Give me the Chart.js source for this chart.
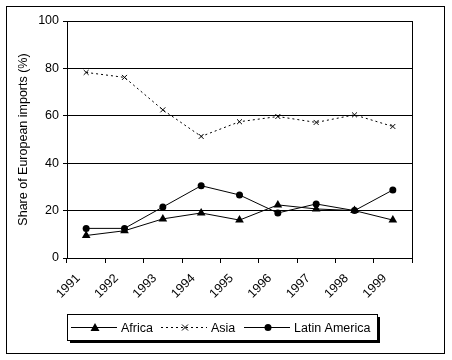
<!DOCTYPE html>
<html>
<head>
<meta charset="utf-8">
<script src="https://cdn.jsdelivr.net/npm/chart.js@4/dist/chart.umd.min.js"></script>
<style>
    body { margin: 0; background: #fff; }
    canvas { display: block; }
</style>
</head>
<body>
<canvas id="importsChart" width="452" height="360"></canvas>
<script>
const years = ["1991", "1992", "1993", "1994", "1995", "1996", "1997", "1998", "1999"];
const africa = [9.5, 11.5, 16.5, 19, 16, 22.4, 20.7, 20, 16];
const asia = [78.3, 76.2, 62.5, 51.3, 57.5, 59.7, 57.2, 60.4, 55.5];
const latinAmerica = [12.5, 12.5, 21.5, 30.5, 26.6, 19, 22.8, 20, 28.7];
const yTicks = [0, 20, 40, 60, 80, 100];

const FONT = "Liberation Sans, Arial, sans-serif";

// outer frame + box round the plot area
const framePlugin = {
    id: "frame",
    beforeDraw(chart) {
        const ctx = chart.ctx;
        ctx.save();
        ctx.fillStyle = "#fff";
        ctx.fillRect(0, 0, chart.width, chart.height);
        ctx.strokeStyle = "#000";
        ctx.lineWidth = 1;
        ctx.strokeRect(6.5, 6.5, 438, 347);
        ctx.restore();
    },
    afterDatasetsDraw(chart) {
        const a = chart.chartArea;
        const ctx = chart.ctx;
        ctx.save();
        ctx.strokeStyle = "#000";
        ctx.lineWidth = 1;
        ctx.beginPath();
        ctx.moveTo(Math.round(a.right) + 0.5, a.top);
        ctx.lineTo(Math.round(a.right) + 0.5, a.bottom);
        ctx.stroke();
        ctx.restore();
    }
};

function drawMarker(ctx, style, x, y) {
    ctx.beginPath();
    if (style === "triangle") {
        ctx.moveTo(x, y - 4.5);
        ctx.lineTo(x + 4.5, y + 3.5);
        ctx.lineTo(x - 4.5, y + 3.5);
        ctx.closePath();
        ctx.fill();
    } else if (style === "circle") {
        ctx.arc(x, y, 3.5, 0, Math.PI * 2);
        ctx.fill();
    } else if (style === "crossRot") {
        ctx.moveTo(x - 3, y - 3); ctx.lineTo(x + 3, y + 3);
        ctx.moveTo(x + 3, y - 3); ctx.lineTo(x - 3, y + 3);
        ctx.stroke();
    }
}

// legend box with shadow, line + marker samples
const legendPlugin = {
    id: "boxLegend",
    afterDraw(chart) {
        const ctx = chart.ctx;
        const box = { x: 67, y: 314, w: 310, h: 26 };
        ctx.save();
        ctx.fillStyle = "#000";
        ctx.fillRect(box.x + 3, box.y + 3, box.w, box.h);
        ctx.fillStyle = "#fff";
        ctx.fillRect(box.x, box.y, box.w, box.h);
        ctx.strokeStyle = "#000";
        ctx.lineWidth = 1;
        ctx.strokeRect(box.x + 0.5, box.y + 0.5, box.w, box.h);

        const cy = box.y + 13.5;
        const starts = [71, 161, 244];
        ctx.font = "12.5px " + FONT;
        ctx.textBaseline = "middle";
        chart.data.datasets.forEach((ds, i) => {
            const x0 = starts[i];
            ctx.strokeStyle = "#000";
            ctx.fillStyle = "#000";
            ctx.setLineDash(ds.borderDash || []);
            ctx.beginPath();
            ctx.moveTo(x0, cy);
            ctx.lineTo(x0 + 46, cy);
            ctx.stroke();
            ctx.setLineDash([]);
            drawMarker(ctx, ds.pointStyle, x0 + 24, cy);
            ctx.fillText(ds.label, x0 + 50, cy + 1);
        });
        ctx.restore();
    }
};

new Chart(document.getElementById("importsChart"), {
    type: "line",
    data: {
        labels: years,
        datasets: [
            {
                label: "Africa",
                data: africa,
                borderColor: "#000",
                backgroundColor: "#000",
                borderWidth: 1,
                pointStyle: "triangle",
                pointRadius: 5,
                pointBorderWidth: 0,
                tension: 0
            },
            {
                label: "Asia",
                data: asia,
                borderColor: "#000",
                backgroundColor: "#000",
                borderWidth: 1,
                borderDash: [2, 3],
                pointStyle: "crossRot",
                pointRadius: 3.5,
                pointBorderWidth: 1,
                tension: 0
            },
            {
                label: "Latin America",
                data: latinAmerica,
                borderColor: "#000",
                backgroundColor: "#000",
                borderWidth: 1,
                pointStyle: "circle",
                pointRadius: 3.5,
                pointBorderWidth: 0,
                tension: 0
            }
        ]
    },
    options: {
        responsive: false,
        animation: false,
        layout: { padding: { left: 0, top: 21, right: 40, bottom: 0 } },
        plugins: {
            legend: { display: false },
            tooltip: { enabled: false }
        },
        scales: {
            x: {
                offset: true,
                grid: {
                    offset: true,
                    drawOnChartArea: false,
                    drawTicks: true,
                    tickLength: 5,
                    color: "#000"
                },
                border: { color: "#000", width: 1 },
                ticks: {
                    color: "#000",
                    font: { family: FONT, size: 12.5 },
                    minRotation: 45,
                    maxRotation: 45,
                    padding: 8,
                    labelOffset: -8,
                    autoSkip: false
                },
                afterFit(scale) { scale.height = 102; }
            },
            y: {
                min: 0,
                max: 100,
                afterBuildTicks(scale) { scale.ticks = yTicks.map(v => ({ value: v })); },
                grid: {
                    color: "#000",
                    drawTicks: true,
                    tickLength: 4
                },
                border: { color: "#000", width: 1 },
                ticks: {
                    color: "#000",
                    font: { family: FONT, size: 12.5 },
                    padding: 4
                },
                title: {
                    display: true,
                    text: "Share of European imports (%)",
                    color: "#000",
                    font: { family: FONT, size: 12.5 },
                    padding: { top: 16, bottom: 0 }
                },
                afterFit(scale) { scale.width = 67; }
            }
        }
    },
    plugins: [framePlugin, legendPlugin]
});
</script>
</body>
</html>
